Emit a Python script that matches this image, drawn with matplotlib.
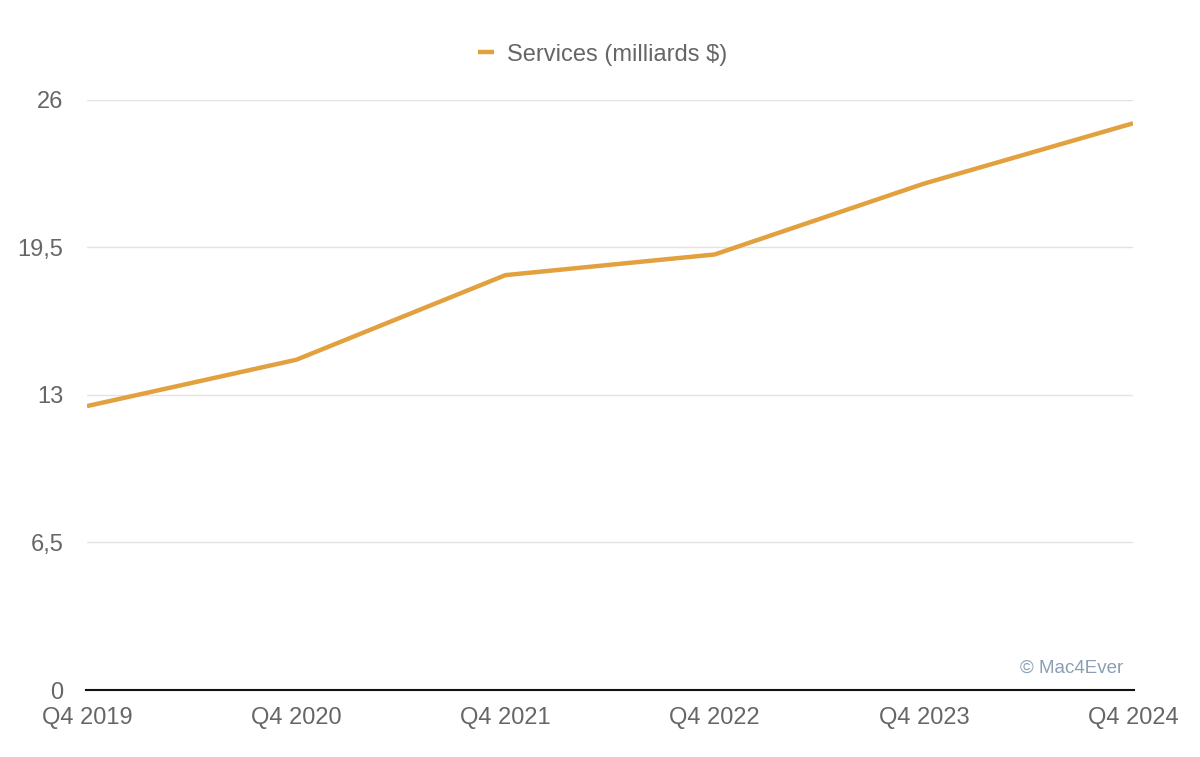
import matplotlib.pyplot as plt

# données
trimestres = ["Q4 2019", "Q4 2020", "Q4 2021", "Q4 2022", "Q4 2023", "Q4 2024"]
services = [12.51, 14.55, 18.28, 19.19, 22.31, 24.97]
y_ticks = [0, 6.5, 13, 19.5, 26]
y_labels = ["0", "6,5", "13", "19,5", "26"]

plt.rcParams['font.family'] = ['Liberation Sans', 'DejaVu Sans']

fig = plt.figure(figsize=(12, 7.57), dpi=100)
ax = fig.add_axes([0.0725, 0.0885, 0.8717, 0.7795])

x = list(range(len(trimestres)))
ax.plot(x, services, color="#E3A03F", linewidth=3.2, solid_capstyle="butt",
        label="Services (milliards $)", zorder=3)

ax.set_xlim(0, len(trimestres) - 1)
ax.set_ylim(0, 26)
ax.set_yticks(y_ticks)
ax.set_yticklabels(y_labels)
ax.set_xticks(x)
ax.set_xticklabels(trimestres)

ax.grid(axis="y", color="#e3e3e3", linewidth=1)
ax.set_axisbelow(True)
for side in ["top", "right", "left"]:
    ax.spines[side].set_visible(False)
ax.spines["bottom"].set_color("#111111")
ax.spines["bottom"].set_linewidth(1.5)
ax.spines["bottom"].set_zorder(4)
ax.spines["bottom"].set_bounds(-0.005, 5.005)

ax.tick_params(axis="both", length=0, labelsize=17, labelcolor="#666666")
ax.tick_params(axis="y", pad=17)
ax.tick_params(axis="x", pad=12)

leg = ax.legend(loc="lower center", bbox_to_anchor=(0.493, 1.022), frameon=False,
                fontsize=17, handlelength=0.65, handletextpad=0.55)
for t in leg.get_texts():
    t.set_color("#666666")

ax.text(0.991, 0.022, "© Mac4Ever", transform=ax.transAxes, ha="right", va="bottom",
        fontsize=13.5, color="#8a9fb5")

fig.savefig("out.png", dpi=100)
